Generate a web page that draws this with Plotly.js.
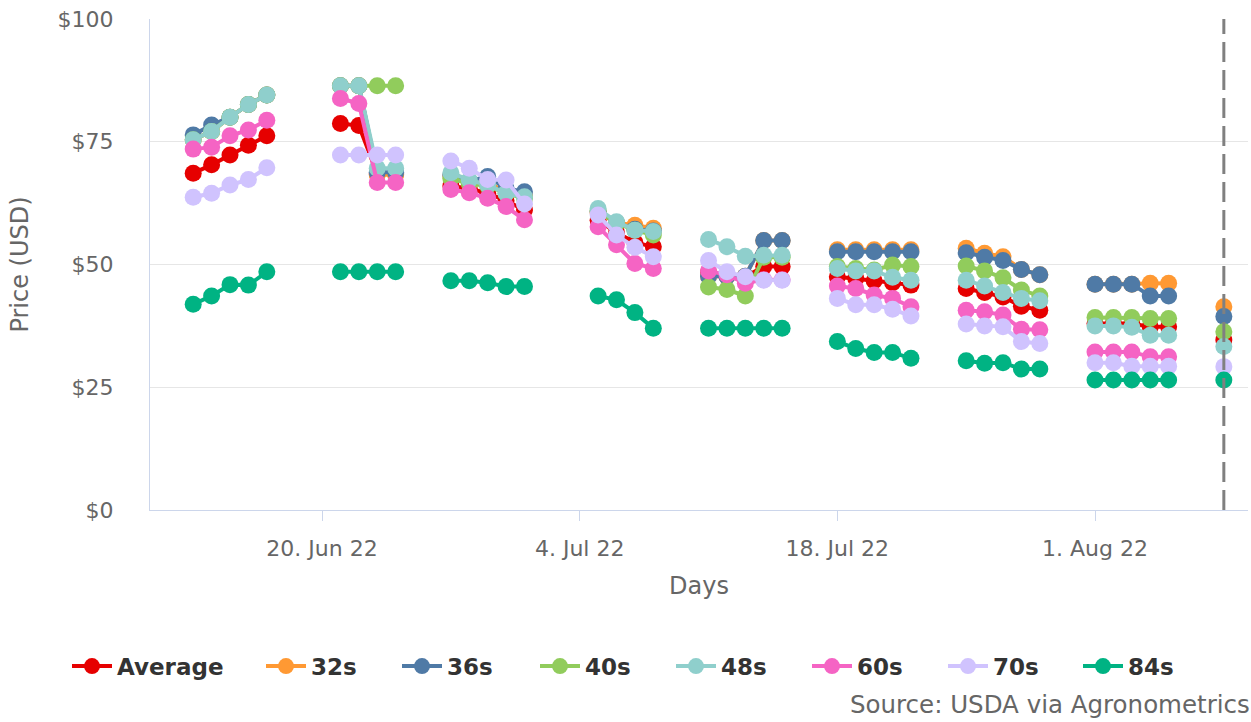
<!DOCTYPE html>
<html>
<head>
<meta charset="utf-8">
<script src="https://cdn.plot.ly/plotly-3.0.1.min.js"></script>
<style>html,body{margin:0;padding:0;background:#fff;}#chart{width:1251px;height:722px;}</style>
</head>
<body>
<div id="chart"></div>
<script>
// Trading days; weekend entries carry null values to break the lines between weeks
const dates = [
  '2022-06-13','2022-06-14','2022-06-15','2022-06-16','2022-06-17','2022-06-18',
  '2022-06-21','2022-06-22','2022-06-23','2022-06-24','2022-06-25',
  '2022-06-27','2022-06-28','2022-06-29','2022-06-30','2022-07-01','2022-07-02',
  '2022-07-05','2022-07-06','2022-07-07','2022-07-08','2022-07-09',
  '2022-07-11','2022-07-12','2022-07-13','2022-07-14','2022-07-15','2022-07-16',
  '2022-07-18','2022-07-19','2022-07-20','2022-07-21','2022-07-22','2022-07-23',
  '2022-07-25','2022-07-26','2022-07-27','2022-07-28','2022-07-29','2022-07-30',
  '2022-08-01','2022-08-02','2022-08-03','2022-08-04','2022-08-05','2022-08-06',
  '2022-08-08'
];
const N = null;
const average = [68.6,70.3,72.3,74.3,76.2,N, 78.7,78.3,68.5,68.5,N, 66.0,65.5,64.5,63.0,61.1,N, 59.0,56.5,54.5,53.6,N, 48.5,48.0,47.5,49.6,49.6,N, 47.5,47.2,46.7,46.3,45.8,N, 45.1,44.3,43.4,41.5,40.7,N, 38.0,38.0,38.0,37.3,37.3,N, 34.6];
const s32 = [75.4,77.1,80.0,82.6,84.5,N, 86.4,86.4,68.3,68.3,N, 68.0,67.0,66.5,65.0,64.0,N, 60.5,58.5,58.0,57.4,N, 47.6,47.6,47.6,54.9,54.9,N, 53.0,53.0,53.0,53.0,53.0,N, 53.3,52.3,51.6,49.0,47.9,N, 46.0,46.0,46.0,46.2,46.2,N, 41.4];
const s36 = [76.4,78.4,80.0,82.6,84.5,N, 86.4,86.4,68.8,68.8,N, 68.3,67.0,67.9,65.5,64.8,N, 60.8,58.5,57.2,56.8,N, 47.6,47.6,47.6,54.9,54.9,N, 52.6,52.6,52.6,52.6,52.6,N, 52.4,51.5,50.8,49.0,47.9,N, 46.0,46.0,46.0,43.6,43.6,N, 39.4];
const s40 = [75.4,77.1,80.0,82.6,84.5,N, 86.4,86.4,86.4,86.4,N, 67.5,66.5,66.0,64.5,63.5,N, 61.0,58.4,57.0,56.0,N, 45.4,44.9,43.6,51.5,51.5,N, 49.6,49.2,48.9,49.9,49.6,N, 49.7,48.7,47.3,44.8,43.6,N, 39.2,39.2,39.2,39.0,39.0,N, 36.3];
const s48 = [75.4,77.1,80.0,82.6,84.5,N, 86.4,86.4,69.6,69.6,N, 68.7,67.2,66.2,64.5,63.8,N, 61.4,58.7,57.0,56.7,N, 55.1,53.6,51.7,51.9,51.9,N, 49.2,48.7,48.7,47.4,46.8,N, 46.8,45.6,44.3,43.1,42.6,N, 37.5,37.5,37.2,35.6,35.6,N, 33.3];
const s60 = [73.5,73.9,76.2,77.4,79.4,N, 83.8,82.8,66.7,66.7,N, 65.3,64.6,63.5,61.8,59.1,N, 57.7,54.0,50.2,49.2,N, 48.7,47.9,46.2,46.9,46.9,N, 45.6,45.1,43.8,43.1,41.4,N, 40.7,40.4,39.7,36.8,36.7,N, 32.2,32.2,32.2,31.2,31.2,N, N];
const s70 = [63.7,64.5,66.2,67.3,69.7,N, 72.3,72.3,72.3,72.3,N, 71.1,69.6,67.3,67.2,62.3,N, 60.1,56.0,53.5,51.6,N, 50.8,48.5,47.5,46.8,46.8,N, 43.1,41.8,41.8,40.9,39.5,N, 37.9,37.5,37.3,34.3,33.9,N, 30.0,30.0,29.3,29.3,29.3,N, 29.2];
const s84 = [41.9,43.6,45.9,45.8,48.5,N, 48.5,48.5,48.5,48.5,N, 46.7,46.7,46.3,45.5,45.5,N, 43.6,42.8,40.2,37.0,N, 37.0,37.0,37.0,37.0,37.0,N, 34.3,32.9,32.1,32.1,30.9,N, 30.4,29.9,30.0,28.7,28.7,N, 26.5,26.5,26.5,26.5,26.5,N, 26.5];

const seriesNames = ['Average','32s','36s','40s','48s','60s','70s','84s'];
const seriesValues = [average, s32, s36, s40, s48, s60, s70, s84];
const seriesColors = ['#e60000','#ff9933','#4f7aa6','#91cc5c','#8fcfcc','#f564c4','#d0c3fe','#00b383'];

const tickDates = ['2022-06-20','2022-07-04','2022-07-18','2022-08-01'];
const tickLabels = ['20. Jun 22','4. Jul 22','18. Jul 22','1. Aug 22'];
const yTicks = [0,25,50,75,100];
const yTickLabels = ['$0','$25','$50','$75','$100'];
const markerDate = '2022-08-08';

const FONT = 'DejaVu Sans, Verdana, sans-serif';
// legend symbol centre positions (px) for each item
const legendCentersPx = [87, 281, 417, 555, 691, 827, 963, 1098];
const plotLeft = 150, plotW = 1098;

const traces = seriesNames.map((name, i) => ({
  type: 'scatter', mode: 'lines+markers', name: name,
  x: dates, y: seriesValues[i], connectgaps: false,
  line: {color: seriesColors[i], width: 4},
  marker: {color: seriesColors[i], size: 17, symbol: 'circle'},
  legend: i === 0 ? 'legend' : 'legend' + (i + 1),
  hoverinfo: 'x+y+name'
}));

const layout = {
  width: 1251, height: 722,
  margin: {l: 150, r: 3, t: 19, b: 212},
  paper_bgcolor: '#fff', plot_bgcolor: '#fff',
  font: {family: FONT, color: '#666', size: 22},
  showlegend: true,
  xaxis: {
    type: 'date',
    range: ['2022-06-10 15:40', '2022-08-09 07:30'],
    tickvals: tickDates, ticktext: tickLabels,
    showgrid: false, zeroline: false,
    showline: true, linecolor: '#ccd6eb', linewidth: 1,
    ticks: 'outside', ticklen: 10, tickcolor: '#ccd6eb', tickwidth: 1,
    ticklabelstandoff: 9,
    tickfont: {family: FONT, size: 22, color: '#666'},
    title: {text: 'Days', font: {family: FONT, size: 24, color: '#666'}, standoff: 16}
  },
  yaxis: {
    range: [0, 100], tickvals: yTicks, ticktext: yTickLabels,
    showgrid: true, gridcolor: '#e6e6e6', gridwidth: 1,
    zeroline: false, showline: true, linecolor: '#ccd6eb', linewidth: 1,
    ticks: '', ticklabelstandoff: 31,
    tickfont: {family: FONT, size: 22, color: '#666'},
    title: {text: 'Price (USD)', font: {family: FONT, size: 24, color: '#666'}, standoff: 22}
  },
  shapes: [{
    type: 'line', xref: 'x', yref: 'paper', x0: markerDate, x1: markerDate, y0: 0, y1: 1,
    line: {color: '#808080', width: 3, dash: '20px,8px'}
  }],
  annotations: [{
    xref: 'paper', yref: 'paper', x: 1, y: -0.397, xanchor: 'right', yanchor: 'middle',
    xshift: 4, showarrow: false, text: 'Source: USDA via Agronometrics',
    font: {family: FONT, size: 24.5, color: '#666'}
  }]
};

seriesNames.forEach((n, i) => {
  const key = i === 0 ? 'legend' : 'legend' + (i + 1);
  layout[key] = {
    x: (legendCentersPx[i] - 20 - plotLeft) / plotW, y: -0.318,
    xanchor: 'left', yanchor: 'middle', orientation: 'h',
    bgcolor: 'rgba(0,0,0,0)', borderwidth: 0, itemwidth: 40,
    font: {family: FONT, size: 23, color: '#333', weight: 'bold'}
  };
});

Plotly.newPlot('chart', traces, layout, {displayModeBar: false, staticPlot: true});
</script>
</body>
</html>
